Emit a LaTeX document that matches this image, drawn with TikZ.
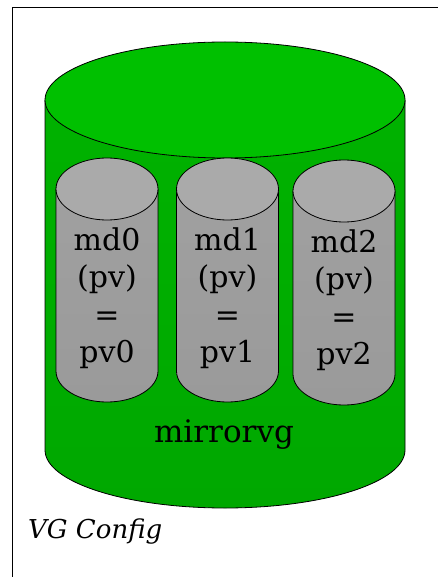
\documentclass[tikz,border=0pt]{standalone}
\usepackage{fontspec}
\setmainfont{DejaVu Serif}
\definecolor{gtop}{HTML}{00C000}
\definecolor{gbodyA}{HTML}{00B200}
\definecolor{gbodyB}{HTML}{00A800}
\definecolor{ctop}{HTML}{AAAAAA}
\definecolor{cbodyA}{HTML}{A0A0A0}
\definecolor{cbodyB}{HTML}{9A9A9A}
\tikzset{
  outline/.style={draw=black, line width=0.8pt},
  lbl/.style={inner sep=0pt, align=center, font=\fontsize{30}{37.5}\selectfont},
  biglbl/.style={inner sep=0pt, anchor=base, font=\fontsize{31}{37}\selectfont},
  caption/.style={inner sep=0pt, anchor=base west, font=\fontsize{26}{30}\selectfont\itshape}
}
\newcommand\mdcyl[3]{%
  \shade[top color=cbodyA, bottom color=cbodyB] (#1-51,-#2) -- (#1-51,-#3)
     arc[start angle=180, end angle=360, x radius=51pt, y radius=31pt] -- (#1+51,-#2) -- cycle;
  \draw[outline] (#1-51,-#2) -- (#1-51,-#3)
     arc[start angle=180, end angle=360, x radius=51pt, y radius=31pt] -- (#1+51,-#2);
  \filldraw[outline, fill=ctop] (#1,-#2) ellipse[x radius=51pt, y radius=31pt];
}
\begin{document}
\begin{tikzpicture}[x=1pt,y=1pt]
\useasboundingbox (0,-577) rectangle (437,0);
\fill[white] (0,-577) rectangle (437,0);
\draw[line width=1pt] (12.5,-600) -- (12.5,-7.5) -- (460,-7.5);
% big cylinder
\shade[top color=gbodyA, bottom color=gbodyB] (45,-100) -- (45,-450)
   arc[start angle=180, end angle=360, x radius=180pt, y radius=58pt] -- (405,-100) -- cycle;
\draw[outline] (45,-100) -- (45,-450)
   arc[start angle=180, end angle=360, x radius=180pt, y radius=58pt] -- (405,-100);
\filldraw[outline, fill=gtop] (225,-100) ellipse[x radius=180pt, y radius=58pt];
% small cylinders
\mdcyl{107}{189}{371}
\mdcyl{227.5}{189}{371}
\mdcyl{344}{191}{374}
\node[lbl] (md0) at (107,-298) {md0\\(pv)\\=\\pv0};
\node[lbl] (md1) at (227.5,-298) {md1\\(pv)\\=\\pv1};
\node[lbl] (md2) at (344,-300) {md2\\(pv)\\=\\pv2};
\node[biglbl] (vg) at (224,-442) {mirrorvg};
\node[caption] (cap) at (28,-538) {VG Config};
\end{tikzpicture}
\end{document}
